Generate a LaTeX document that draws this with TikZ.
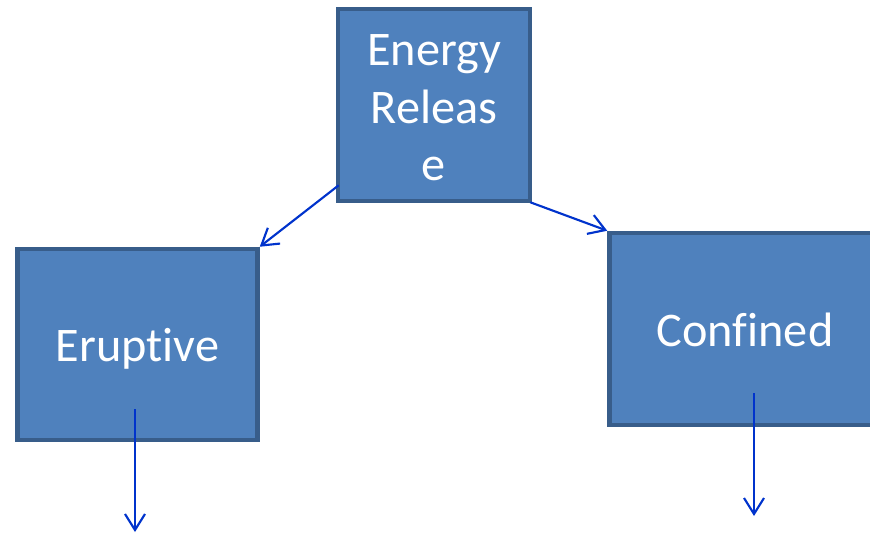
\documentclass[tikz,border=0pt]{standalone}
\usepackage{fontspec}
\setmainfont{Carlito}[Ligatures={NoCommon}]
\usetikzlibrary{arrows.meta,calc}
\definecolor{boxfill}{HTML}{4F81BD}
\definecolor{boxline}{HTML}{385D8A}
\definecolor{arrowblue}{HTML}{0033CC}
\begin{document}
\begin{tikzpicture}[x=0.75pt,y=-0.75pt,
  block/.style={draw=boxline, fill=boxfill, line width=3.4pt, inner sep=0pt},
  caption/.style={text=white, font=\fontsize{36.2}{43}\selectfont,
    align=center, inner sep=0pt},
  link/.style={draw=arrowblue, line width=1.6pt,
    -{Straight Barb[length=12pt,width=15pt]}}]
\clip (0,0) rectangle (870,536);
% the three blocks
\node[block, minimum width=144pt, minimum height=144pt] (energy) at (434,105) {};
\node[block, minimum width=180pt, minimum height=143.25pt] (eruptive) at (137.5,344.5) {};
\node[block, minimum width=203.25pt, minimum height=144pt] (confined) at (745,329) {};
% their captions
\node[caption] (energy-text) at ($(energy.center)+(0,3)$) {Energy\\Releas\\e};
\node[caption] (eruptive-text) at ($(eruptive.center)+(0,4)$) {Eruptive};
\node[caption] (confined-text) at ($(confined.center)+(0,1)$) {Confined};
% loose ends of the downward arrows
\coordinate (eruptive-out) at (135,532);
\coordinate (confined-out) at (754,516);
% connectors
\draw[link] ($(energy.south west)+(3,-18)$) -- (eruptive.north east);
\draw[link] ($(energy.south east)+(-2,-1)$) -- (confined.north west);
\draw[link] ($(eruptive.south)+(-2.5,-33)$) -- (eruptive-out);
\draw[link] ($(confined.south)+(9,-34)$) -- (confined-out);
\end{tikzpicture}
\end{document}
